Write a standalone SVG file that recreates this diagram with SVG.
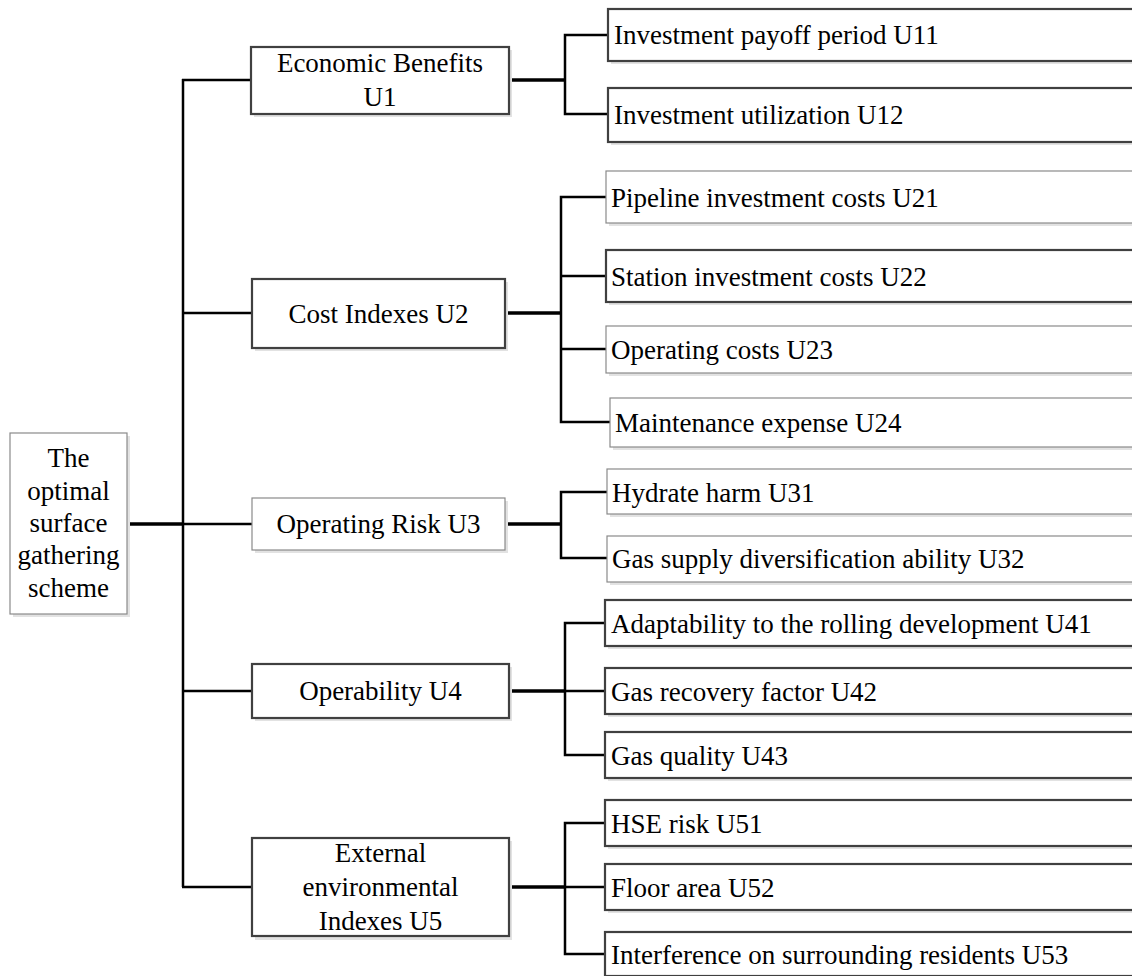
<svg xmlns="http://www.w3.org/2000/svg" width="1132" height="976" viewBox="0 0 1132 976">
<style>
.bx{fill:#fff}
.dk{stroke:#404040;stroke-width:2.2}
.lt{stroke:#8a8a8a;stroke-width:1.2}
.sh{fill:#e2e2e2}
text{font-family:"Liberation Serif","Times New Roman",serif;font-size:27px;fill:#000}
.c{text-anchor:middle}
.ln{stroke:#000;stroke-width:2.5;fill:none}
.lk{stroke:#000;stroke-width:3.5;fill:none}
</style>
<rect width="1132" height="976" fill="#fff"/>
<g id="connectors">
<line class="lk" x1="127" y1="524" x2="183" y2="524"/>
<line class="ln" x1="183" y1="79" x2="183" y2="887"/>
<line class="ln" x1="182" y1="80" x2="251" y2="80"/>
<line class="ln" x1="183" y1="313" x2="252" y2="313"/>
<line class="ln" x1="183" y1="524" x2="252" y2="524"/>
<line class="ln" x1="183" y1="691" x2="252" y2="691"/>
<line class="ln" x1="182" y1="887" x2="252" y2="887"/>
<line class="lk" x1="509" y1="80" x2="565" y2="80"/>
<polyline class="ln" points="608,35 565,35 565,114 608,114"/>
<line class="lk" x1="505" y1="313" x2="561" y2="313"/>
<polyline class="ln" points="606,197 561,197 561,422 610,422"/>
<line class="ln" x1="561" y1="276" x2="606" y2="276"/>
<line class="ln" x1="561" y1="349" x2="606" y2="349"/>
<line class="lk" x1="505" y1="524" x2="561" y2="524"/>
<polyline class="ln" points="607,492 561,492 561,558 607,558"/>
<line class="lk" x1="509" y1="691" x2="565" y2="691"/>
<polyline class="ln" points="605,623 565,623 565,755 605,755"/>
<line class="ln" x1="565" y1="691" x2="605" y2="691"/>
<line class="lk" x1="509" y1="887" x2="565" y2="887"/>
<polyline class="ln" points="605,823 565,823 565,954 605,954"/>
<line class="ln" x1="565" y1="887" x2="605" y2="887"/>
</g>
<g id="root">
<rect class="sh" x="13" y="436" width="117" height="181"/>
<rect class="bx lt" x="10" y="433" width="117" height="181"/>
<text class="c" x="68.5" y="467">The</text>
<text class="c" x="68.5" y="499.5">optimal</text>
<text class="c" x="68.5" y="532">surface</text>
<text class="c" x="68.5" y="564">gathering</text>
<text class="c" x="68.5" y="596.5">scheme</text>
</g>
<g id="U1">
<rect class="sh" x="254" y="50" width="258" height="67"/>
<rect class="bx dk" x="251" y="47" width="258" height="67"/>
<text class="c" x="380" y="72">Economic Benefits</text>
<text class="c" x="380" y="106">U1</text>
</g>
<g id="U2">
<rect class="sh" x="255" y="282" width="253" height="69"/>
<rect class="bx dk" x="252" y="279" width="253" height="69"/>
<text class="c" x="378.5" y="322.5">Cost Indexes U2</text>
</g>
<g id="U3">
<rect class="sh" x="255" y="501" width="253" height="52"/>
<rect class="bx lt" x="252" y="498" width="253" height="52"/>
<text class="c" x="378.5" y="533">Operating Risk U3</text>
</g>
<g id="U4">
<rect class="sh" x="255" y="667" width="257" height="54"/>
<rect class="bx dk" x="252" y="664" width="257" height="54"/>
<text class="c" x="380.5" y="700">Operability U4</text>
</g>
<g id="U5">
<rect class="sh" x="255" y="841" width="257" height="99"/>
<rect class="bx dk" x="252" y="838" width="257" height="98"/>
<text class="c" x="380.5" y="862">External</text>
<text class="c" x="380.5" y="896">environmental</text>
<text class="c" x="380.5" y="929.5">Indexes U5</text>
</g>
<g id="U11"><rect class="sh" x="611" y="12" width="540" height="52"/><rect class="bx dk" x="608" y="9" width="540" height="52"/><text x="614" y="44">Investment payoff period U11</text></g>
<g id="U12"><rect class="sh" x="611" y="91" width="540" height="54"/><rect class="bx dk" x="608" y="88" width="540" height="54"/><text x="614" y="123.5">Investment utilization U12</text></g>
<g id="U21"><rect class="sh" x="609" y="174" width="540" height="52"/><rect class="bx lt" x="606" y="171" width="540" height="52"/><text x="611" y="206.5">Pipeline investment costs U21</text></g>
<g id="U22"><rect class="sh" x="609" y="253" width="540" height="52"/><rect class="bx dk" x="606" y="250" width="540" height="52"/><text x="611" y="285.5">Station investment costs U22</text></g>
<g id="U23"><rect class="sh" x="609" y="329" width="540" height="47"/><rect class="bx lt" x="606" y="326" width="540" height="47"/><text x="611" y="358.5">Operating costs U23</text></g>
<g id="U24"><rect class="sh" x="613" y="401" width="540" height="49"/><rect class="bx lt" x="610" y="398" width="540" height="49"/><text x="615" y="432">Maintenance expense U24</text></g>
<g id="U31"><rect class="sh" x="610" y="472" width="540" height="45"/><rect class="bx lt" x="607" y="469" width="540" height="45"/><text x="612" y="501.5">Hydrate harm U31</text></g>
<g id="U32"><rect class="sh" x="610" y="539" width="540" height="46"/><rect class="bx lt" x="607" y="536" width="540" height="46"/><text x="612" y="568">Gas supply diversification ability U32</text></g>
<g id="U41"><rect class="sh" x="608" y="603" width="540" height="46"/><rect class="bx dk" x="605" y="600" width="540" height="46"/><text x="611" y="632.5">Adaptability to the rolling development U41</text></g>
<g id="U42"><rect class="sh" x="608" y="671" width="540" height="46"/><rect class="bx dk" x="605" y="668" width="540" height="46"/><text x="611" y="700.5">Gas recovery factor U42</text></g>
<g id="U43"><rect class="sh" x="608" y="735" width="540" height="46"/><rect class="bx dk" x="605" y="732" width="540" height="46"/><text x="611" y="764.5">Gas quality U43</text></g>
<g id="U51"><rect class="sh" x="608" y="803" width="540" height="46"/><rect class="bx dk" x="605" y="800" width="540" height="46"/><text x="611" y="832.5">HSE risk U51</text></g>
<g id="U52"><rect class="sh" x="608" y="867" width="540" height="46"/><rect class="bx dk" x="605" y="864" width="540" height="46"/><text x="611" y="896.5">Floor area U52</text></g>
<g id="U53"><rect class="sh" x="608" y="935" width="540" height="46"/><rect class="bx dk" x="605" y="932" width="540" height="44"/><text x="611" y="963.5">Interference on surrounding residents U53</text></g>
</svg>
